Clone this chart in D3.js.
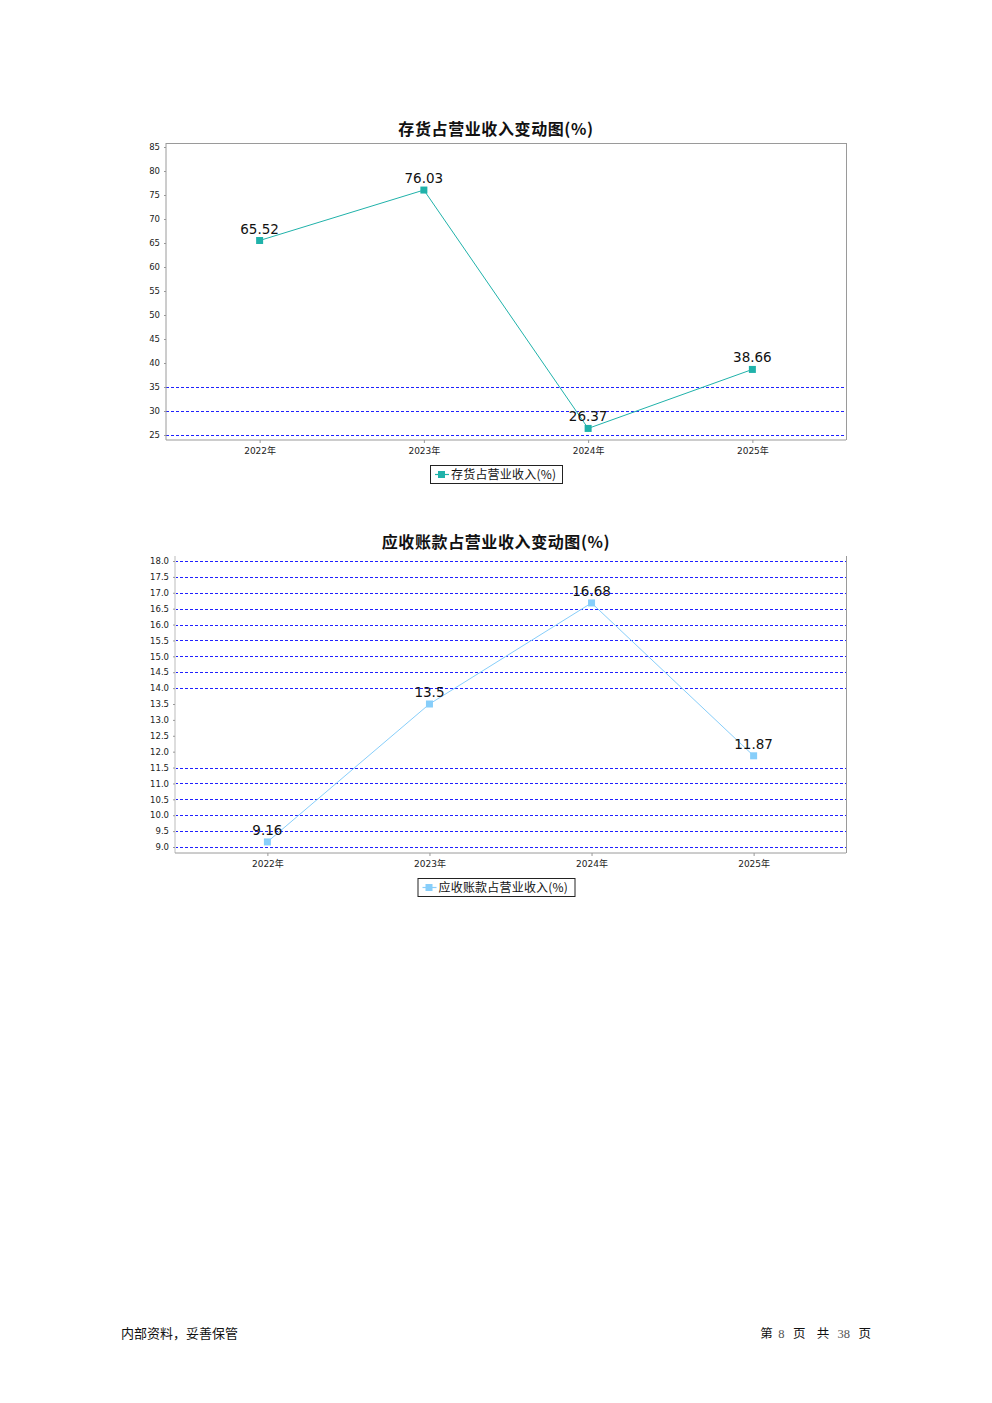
<!DOCTYPE html>
<html><head><meta charset="utf-8">
<script src="https://cdn.jsdelivr.net/npm/d3@7/dist/d3.min.js"></script>
<style>
html,body{margin:0;padding:0;background:#fff;}
svg{display:block;}
</style></head>
<body>
<svg id="page" width="992" height="1403"></svg>
<script>
const years = ["2022年","2023年","2024年","2025年"];
const inventoryValues = [65.52, 76.03, 26.37, 38.66];
const receivableValues = [9.16, 13.5, 16.68, 11.87];
const inventoryTicks = [25,30,35,40,45,50,55,60,65,70,75,80,85];
const inventoryGrid = [25,30,35];
const receivableTicks = [9.0,9.5,10.0,10.5,11.0,11.5,12.0,12.5,13.0,13.5,14.0,14.5,15.0,15.5,16.0,16.5,17.0,17.5,18.0];
const receivableGrid = [9.0,9.5,10.0,10.5,11.0,11.5,14.0,14.5,15.0,15.5,16.0,16.5,17.0,17.5,18.0];
const titles = ["存货占营业收入变动图(%)","应收账款占营业收入变动图(%)"];
const legendLabels = ["存货占营业收入(%)","应收账款占营业收入(%)"];
const footerLeft = "内部资料，妥善保管";

const svg = d3.select("#page");
const FONT = "'DejaVu Sans', 'Noto Sans CJK SC', sans-serif";
const CJK = "'Noto Sans CJK SC', sans-serif";

function drawChart(o){
  const g = svg.append("g");
  const x = d3.scalePoint().domain(years).range([o.left, o.right]).padding(0.57);
  const y = d3.scaleLinear().domain(o.domain).range([o.bottomVal, o.topVal]);

  g.append("text").attr("x", 496).attr("y", o.titleY).attr("text-anchor","middle")
    .attr("font-family",CJK).attr("font-weight","bold")
    .attr("font-size",16).attr("letter-spacing",0.6).attr("fill","#111").text(o.title);

  if (o.topBorder) g.append("line").attr("x1",o.left).attr("x2",o.right).attr("y1",o.top+0.5).attr("y2",o.top+0.5).attr("stroke","#9a9a9a");
  g.append("line").attr("x1",o.right+0.5).attr("x2",o.right+0.5).attr("y1",o.top).attr("y2",o.bottom).attr("stroke","#9a9a9a");

  g.selectAll(".grid").data(o.grid).join("line")
    .attr("x1",o.left).attr("x2",o.right)
    .attr("y1",d=>Math.round(y(d))+0.5).attr("y2",d=>Math.round(y(d))+0.5)
    .attr("stroke","#2020ff").attr("stroke-width",1).attr("stroke-dasharray","3,2")
    .attr("shape-rendering","crispEdges");

  const ya = d3.axisLeft(y).tickValues(o.ticks).tickSize(2).tickPadding(4)
    .tickFormat(d=>o.fmt(d));
  const yg = g.append("g").attr("transform",`translate(${o.left},0)`).call(ya);
  yg.select(".domain").attr("stroke",o.leftColor).attr("stroke-width",o.leftWidth).attr("d",`M0,${o.top}V${o.bottom}`);
  yg.selectAll(".tick line").attr("stroke","#999");
  yg.selectAll("text").attr("font-family",FONT).attr("font-size",8.5).attr("fill","#222");

  const xa = d3.axisBottom(x).tickSize(3).tickPadding(5);
  const xg = g.append("g").attr("transform",`translate(0,${o.bottom})`).call(xa);
  xg.select(".domain").attr("stroke","#9a9a9a").attr("d",`M${o.left},0H${o.right}`);
  xg.selectAll(".tick line").attr("stroke","#999");
  xg.selectAll("text").attr("font-family",FONT).attr("font-size",9).attr("fill","#222");

  const line = d3.line().x((d,i)=>x(years[i])).y(d=>y(d));
  g.append("path").datum(o.values).attr("d",line).attr("fill","none")
    .attr("stroke",o.color).attr("stroke-width",1);
  g.selectAll(".pt").data(o.values).join("rect")
    .attr("x",(d,i)=>x(years[i])-3.5).attr("y",d=>y(d)-3.5)
    .attr("width",7).attr("height",7).attr("fill",o.color);
  g.selectAll(".lbl").data(o.values).join("text")
    .attr("x",(d,i)=>x(years[i])).attr("y",d=>y(d)-7)
    .attr("text-anchor","middle").attr("font-family",FONT).attr("font-size",13.5)
    .attr("fill","#111").text(d=>String(d));

  const lw = o.legendW, lx = 496 - lw/2, ly = o.legendY;
  const lg = g.append("g");
  lg.append("rect").attr("x",lx+0.5).attr("y",ly+0.5).attr("width",lw).attr("height",18)
    .attr("fill","#fff").attr("stroke","#222");
  lg.append("line").attr("x1",lx+5).attr("x2",lx+19).attr("y1",ly+9.5).attr("y2",ly+9.5).attr("stroke",o.color).attr("stroke-width",1.2);
  lg.append("rect").attr("x",lx+8).attr("y",ly+6).attr("width",7).attr("height",7).attr("fill",o.color);
  lg.append("text").attr("x",lx+21).attr("y",ly+14).attr("font-family",CJK)
    .attr("font-size",12).attr("letter-spacing",0.2).attr("fill","#111").text(o.legend);
}

drawChart({
  title: titles[0], titleY: 135, values: inventoryValues, color: "#20B2AA",
  left: 166, right: 846, top: 143, bottom: 440, domain:[25,85], bottomVal:435, topVal:147,
  ticks: inventoryTicks, grid: inventoryGrid, fmt: d=>d3.format("d")(d),
  topBorder: true, leftColor:"#9a9a9a", leftWidth:1,
  legend: legendLabels[0], legendW: 132, legendY: 465
});
drawChart({
  title: titles[1], titleY: 548, values: receivableValues, color: "#87CEFA",
  left: 175, right: 846, top: 556, bottom: 853, domain:[9,18], bottomVal:847, topVal:561,
  ticks: receivableTicks, grid: receivableGrid, fmt: d=>d3.format(".1f")(d),
  topBorder: false, leftColor:"#dddddd", leftWidth:2,
  legend: legendLabels[1], legendW: 157, legendY: 878
});

svg.append("text").attr("x",121).attr("y",1338).attr("font-family",CJK)
  .attr("font-size",13).attr("fill","#111").text(footerLeft);
const fr = svg.append("text").attr("x",871).attr("y",1338).attr("text-anchor","end")
  .attr("font-size",12.5).attr("fill","#111").attr("xml:space","preserve");
[["第  ","cjk"],["8","num"],["   页    共   ","cjk"],["38","num"],["   页","cjk"]].forEach(([t,k])=>{
  fr.append("tspan").attr("font-family", k==="num" ? "'Liberation Serif', serif" : CJK)
    .attr("fill", k==="num" ? "#555" : "#111").text(t);
});
</script>
</body></html>
